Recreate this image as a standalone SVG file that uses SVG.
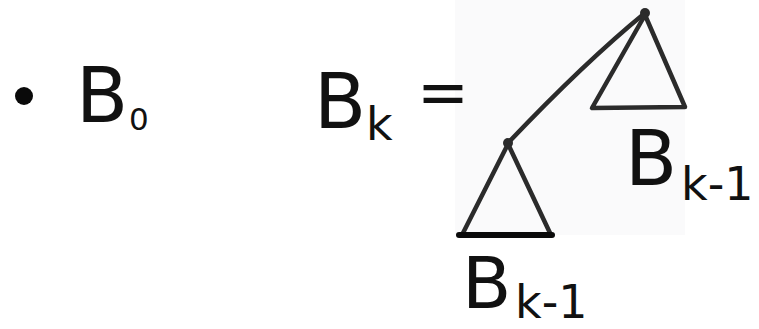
<svg xmlns="http://www.w3.org/2000/svg" width="759" height="329" viewBox="0 0 759 329">
<style>
.t{font-family:"DejaVu Sans","Liberation Sans",sans-serif;fill:#111}
.b{font-size:76px}
.s{font-size:46px}
.ln{fill:none;stroke:#2b2b2b;stroke-width:4.5;stroke-linecap:round;stroke-linejoin:round}
.base{stroke:#0a0a0a;stroke-width:6}
</style>
<rect width="759" height="329" fill="#ffffff"/>
<rect x="455" y="0" width="230" height="235" fill="#fafafb"/>
<g id="b0">
<circle cx="24" cy="96" r="9" fill="#0a0a0a"/>
<text class="t b" x="76" y="122">B</text>
<text class="t" x="129" y="130" font-size="31">0</text>
</g>
<g id="bk">
<text class="t b" x="314" y="128">B</text>
<text class="t s" x="366" y="140">k</text>
<text class="t" x="417" y="114" font-size="62">=</text>
</g>
<g id="connectors">
<path class="ln" d="M645 13 Q585 62 508 143"/>
</g>
<g id="root">
<circle cx="645" cy="13" r="5" fill="#2b2b2b"/>
</g>
<g id="subtree-right">
<path class="ln" d="M645 15 L592 108 L685 107 Z"/>
<text class="t b" x="625" y="185">B</text>
<text class="t s" x="681" y="200">k-1</text>
</g>
<g id="child">
<circle cx="508" cy="143" r="5" fill="#2b2b2b"/>
</g>
<g id="subtree-left">
<path class="ln" d="M507 146 L463 233 M509 146 L550 233"/>
<path class="ln base" d="M459 235 L552 235"/>
<text class="t" x="462" y="308" font-size="72px">B</text>
<text class="t s" x="515" y="318">k-1</text>
</g>
</svg>
